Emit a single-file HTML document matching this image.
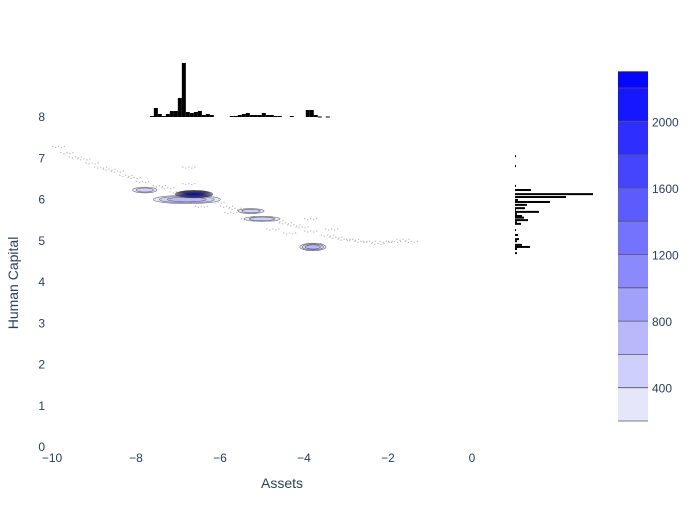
<!DOCTYPE html>
<html><head><meta charset="utf-8"><style>
body{margin:0;background:#fff;font-family:"Liberation Sans",sans-serif}
svg text{font-family:"Liberation Sans",sans-serif;fill:#2a3f5f}
</style></head><body>
<svg id="chart" width="700" height="500" viewBox="0 0 700 500" xmlns="http://www.w3.org/2000/svg">
<g id="scatter"></g>
<g id="contours"></g>
<g id="histx"></g>
<g id="histy"></g>
<g id="xaxis"></g>
<g id="yaxis"></g>
<g id="cbar"></g>
<text x="282" y="488" font-size="14" text-anchor="middle">Assets</text>
<text transform="translate(18,283) rotate(-90)" font-size="14" text-anchor="middle">Human Capital</text>
</svg>
<script>
const xTicks=[-10,-8,-6,-4,-2,0];
const yTicks=[0,1,2,3,4,5,6,7,8];
const cbTicks=[400,800,1200,1600,2000];
const cbLevels=[200,400,600,800,1000,1200,1400,1600,1800,2000,2200,2300];
const histXStart=-7.67, histXWidth=0.0952;
const histXCounts=[1,9,3,1,3,6,6,19,54,5,4,5,6,2,3,2,0,0,0,0,1,1,2,3,4,2,2,2,4,2,2,1,1,0,0,1,0,0,0,7,7,2,0.5,0,0.5];
const histYValues=[7.05,6.81,6.33,6.23,6.13,6.06,5.99,5.94,5.87,5.79,5.75,5.70,5.65,5.60,5.56,5.50,5.45,5.41,5.26,5.14,5.04,4.99,4.90,4.85,4.80,4.70];
const histYCounts=[1,1,1,16,78,51,3,35,12,10,1,24,2,7,9,13,2,6,1,3,4,2,7,15,2,2];
// density clusters: center x, center y, x spread, y spread, peak level
const clX=[-7.79,-6.79,-6.62,-5.26,-5.0,-3.79];
const clY=[6.23,6.0,6.13,5.72,5.53,4.85];
const clRX=[0.29,0.8,0.45,0.31,0.43,0.31];
const clRY=[0.07,0.1,0.09,0.06,0.06,0.09];
const clPeak=[400,600,2300,400,400,600];
const dotX=[-10,-9.8,-9.6,-9.4,-9.2,-9.0,-8.8,-8.6,-8.4,-8.2,-8.0,-7.6,-7.4,-7.2,-7.0,-6.5,-6.2,-6.0,-5.8,-5.6,-5.4,-5.2,-4.8,-4.6,-4.4,-4.2,-4.0,-3.6,-3.4,-3.2,-3.0,-2.8,-2.6,-2.4,-2.2,-2.0,-1.8,-1.6,-6.9,-6.6,-5.9,-5.5,-4.9,-4.5,-3.9,-6.9,-4.0,-3.5];
const dotY=[7.3,7.15,7.05,7.0,6.9,6.8,6.75,6.7,6.6,6.55,6.45,6.35,6.3,6.2,6.15,6.0,5.95,5.85,5.8,5.75,5.7,5.6,5.5,5.45,5.4,5.35,5.25,5.15,5.1,5.05,5.05,5.0,5.0,4.95,5.0,5.0,5.05,5.0,6.4,5.85,5.7,5.55,5.3,5.2,4.95,6.8,5.55,5.3];
const NS='http://www.w3.org/2000/svg';
const X=v=>472+42*v, Y=v=>447-41.25*v;
function mk(t,a,p){const e=document.createElementNS(NS,t);for(const k in a)e.setAttribute(k,a[k]);p.appendChild(e);return e;}
function col(level){const f=Math.min(1,Math.max(0,(level-300)/2000));return `rgb(${Math.round(230*(1-f))},${Math.round(230*(1-f))},${Math.round(250+5*f)})`;}
// dots
const sc=document.getElementById('scatter');
dotX.forEach((x,i)=>{for(let j=0;j<5;j++){const d=mk('rect',{x:X(x)+j*3,y:Y(dotY[i])+(j%2),width:1.2,height:1.2,fill:'#bbb'},sc);

}});
// contours
const ct=document.getElementById('contours');
clX.forEach((cx,i)=>{const n=Math.round(clPeak[i]/200);for(let k=1;k<=n;k++){const s=Math.sqrt(1-(k-1)/n);
const e=mk('ellipse',{cx:X(cx),cy:Y(clY[i]),rx:42*clRX[i]*s,ry:41.25*clRY[i]*s,fill:col(k*200+100),stroke:'#333','stroke-width':0.6,'stroke-opacity':0.7},ct);

}});
// x hist
const hx=document.getElementById('histx');
histXCounts.forEach((c,i)=>{if(c<=0)return;const x0=X(histXStart+i*histXWidth);const h=c;
const r=mk('rect',{x:x0,y:117-h,width:42*histXWidth,height:Math.max(h,1),fill:'#000'},hx);

});
// y hist
const hy=document.getElementById('histy');
histYValues.forEach((v,i)=>{const r=mk('rect',{x:515,y:Y(v)-1,width:histYCounts[i],height:2,fill:'#000'},hy);

});
// axes
const xa=document.getElementById('xaxis');
xTicks.forEach(t=>{const l=mk('text',{x:X(t),y:462,'font-size':12,'text-anchor':'middle'},xa);l.textContent=t<0?'\u2212'+(-t):t;

});
const ya=document.getElementById('yaxis');
yTicks.forEach(t=>{const l=mk('text',{x:45,y:Y(t)+4,'font-size':12,'text-anchor':'end'},ya);l.textContent=t;

});
// colorbar
const cb=document.getElementById('cbar');
const CY=v=>421-(v-200)*(33.3/200);
for(let i=0;i<cbLevels.length-1;i++){const a=cbLevels[i],b=cbLevels[i+1];
const r=mk('rect',{x:618,y:CY(b),width:30,height:CY(a)-CY(b),fill:col((a+b)/2)},cb);


mk('line',{x1:618,x2:648,y1:CY(a),y2:CY(a),stroke:'#555','stroke-width':0.8},cb);}
cbTicks.forEach(t=>{const l=mk('text',{x:652,y:CY(t)+5,'font-size':12},cb);l.textContent=t;

});
</script>
</body></html>
